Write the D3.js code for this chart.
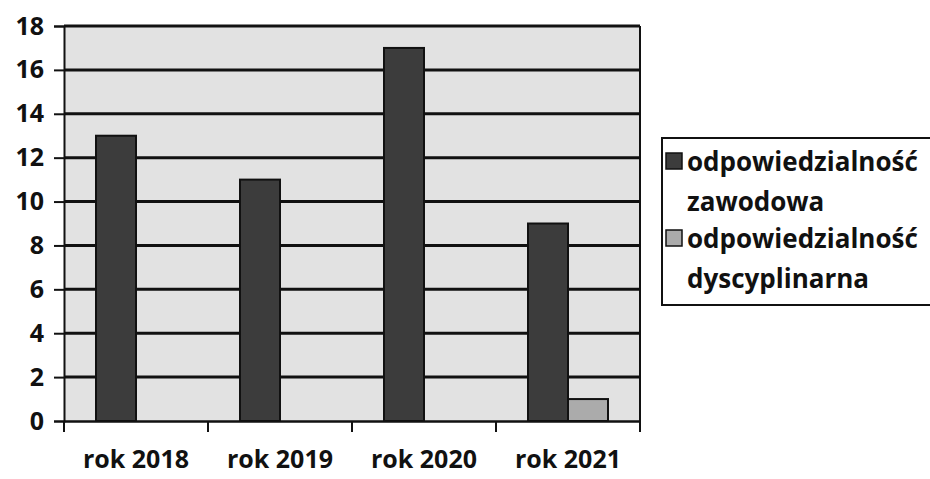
<!DOCTYPE html>
<html>
<head>
<meta charset="utf-8">
<script src="https://cdn.jsdelivr.net/npm/d3@7"></script>
<style>
  body { margin: 0; background: #fff; }
  text { font-family: "Open Sans", "Noto Sans", sans-serif; font-weight: bold; fill: #111; }
</style>
</head>
<body>
<div id="chart"></div>
<script>
// data
var years = ["rok 2018", "rok 2019", "rok 2020", "rok 2021"];
var seriesNames = ["odpowiedzialność zawodowa", "odpowiedzialność dyscyplinarna"];
var zawodowa = [13, 11, 17, 9];
var dyscyplinarna = [0, 0, 0, 1];
var yTicks = [0, 2, 4, 6, 8, 10, 12, 14, 16, 18];

var svgWidth = 930;
var svgHeight = 479;

var margin = { top: 26, right: 290, bottom: 58, left: 64 };
var width = svgWidth - margin.left - margin.right;
var height = svgHeight - margin.top - margin.bottom;

var svg = d3.select("#chart")
  .append("svg")
  .attr("width", svgWidth)
  .attr("height", svgHeight);

var chartGroup = svg.append("g")
  .attr("transform", `translate(${margin.left}, ${margin.top})`);

// scales
var xScale = d3.scaleBand()
  .domain(years)
  .range([0, width]);

var xInner = d3.scaleBand()
  .domain([0, 1])
  .range([0, xScale.bandwidth()])
  .paddingOuter(0.8)
  .paddingInner(0);

var yScale = d3.scaleLinear()
  .domain([0, 18])
  .range([height, 0]);

var colors = ["#3c3c3c", "#ababab"];

// plot background
chartGroup.append("rect")
  .attr("x", 0)
  .attr("y", 0)
  .attr("width", width)
  .attr("height", height)
  .attr("fill", "#e2e2e2");

// gridlines
chartGroup.append("g")
  .selectAll("line")
  .data(yTicks.slice(1))
  .enter()
  .append("line")
  .attr("x1", 0)
  .attr("x2", width)
  .attr("y1", d => yScale(d))
  .attr("y2", d => yScale(d))
  .attr("stroke", "#111")
  .attr("stroke-width", 3);

// right border
chartGroup.append("line")
  .attr("x1", width).attr("x2", width)
  .attr("y1", 0).attr("y2", height)
  .attr("stroke", "#111")
  .attr("stroke-width", 2);

// bars
var rows = years.map((y, i) => ({ year: y, values: [zawodowa[i], dyscyplinarna[i]] }));

var groups = chartGroup.selectAll(".grp")
  .data(rows)
  .enter()
  .append("g")
  .attr("transform", d => `translate(${xScale(d.year)}, 0)`);

groups.selectAll("rect")
  .data(d => d.values.map((v, k) => ({ k: k, v: v })).filter(e => e.v > 0))
  .enter()
  .append("rect")
  .attr("x", d => xInner(d.k))
  .attr("y", d => yScale(d.v))
  .attr("width", xInner.bandwidth())
  .attr("height", d => height - yScale(d.v))
  .attr("fill", d => colors[d.k])
  .attr("stroke", "#111")
  .attr("stroke-width", 2);

// axes
var leftAxis = d3.axisLeft(yScale).tickValues(yTicks).tickSize(10).tickPadding(10);
var bottomAxis = d3.axisBottom(xScale).tickSize(0).tickPadding(29);

var yAxis = chartGroup.append("g").call(leftAxis);
yAxis.select(".domain").attr("stroke", "#111").attr("stroke-width", 2);
yAxis.selectAll("line").attr("stroke", "#111").attr("stroke-width", 2);
yAxis.selectAll("text").style("font-size", "25px").attr("fill", "#111");

var xAxis = chartGroup.append("g")
  .attr("transform", `translate(0, ${height})`)
  .call(bottomAxis);
xAxis.select(".domain").attr("stroke", "#111").attr("stroke-width", 2.5);
xAxis.selectAll("text").style("font-size", "25px").attr("fill", "#111");

// category boundary ticks
chartGroup.append("g")
  .selectAll("line")
  .data(years.concat(["end"]))
  .enter()
  .append("line")
  .attr("x1", (d, i) => i * xScale.step())
  .attr("x2", (d, i) => i * xScale.step())
  .attr("y1", height)
  .attr("y2", height + 11)
  .attr("stroke", "#111")
  .attr("stroke-width", 2);

// legend
var legend = svg.append("g").attr("transform", "translate(662, 138)");
legend.append("rect")
  .attr("x", 0).attr("y", 0)
  .attr("width", 290).attr("height", 167)
  .attr("fill", "#fff")
  .attr("stroke", "#111")
  .attr("stroke-width", 2);

seriesNames.forEach(function(name, i) {
  var words = name.split(" ");
  var item = legend.append("g").attr("transform", `translate(0, ${i * 77})`);
  item.append("rect")
    .attr("x", 4).attr("y", 15)
    .attr("width", 16).attr("height", 16)
    .attr("fill", colors[i])
    .attr("stroke", "#111")
    .attr("stroke-width", 1.5);
  item.append("text")
    .attr("x", 25).attr("y", 33)
    .style("font-size", "26px")
    .text(words[0]);
  item.append("text")
    .attr("x", 25).attr("y", 73)
    .style("font-size", "26px")
    .text(words[1]);
});
</script>
</body>
</html>
